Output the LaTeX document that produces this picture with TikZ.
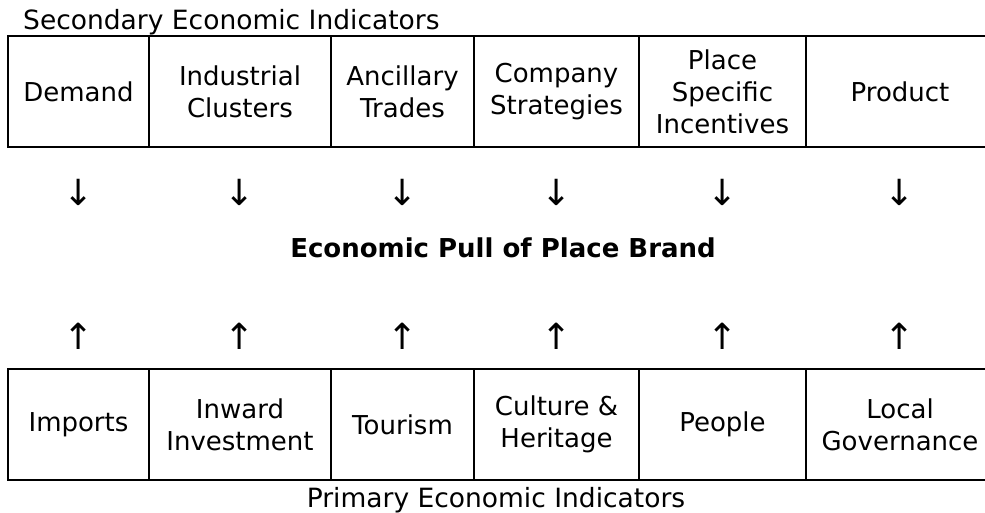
\documentclass[tikz,border=0pt]{standalone}
\usepackage{fontspec}
\setmainfont{DejaVu Sans}
\usetikzlibrary{positioning}
\tikzset{
	cell/.style={rectangle, draw, line width=1.8pt, outer sep=0pt, inner sep=0pt, minimum width=#1, minimum height=111pt, align=center, font=\fontsize{26}{32}\selectfont},
	caption/.style={inner sep=0pt, font=\fontsize{26.5}{32}\selectfont},
	arrowsym/.style={inner sep=0pt, font=\fontsize{36}{40}\selectfont},
	pulltitle/.style={inner sep=0pt, font=\fontsize{26}{32}\selectfont\bfseries}
}

\begin{document}
\begin{tikzpicture}[x=1pt, y=-1pt]
	\useasboundingbox (0,0) rectangle (985,513);

	% Secondary indicators (top row)
	\node[cell=141pt, anchor=north west] (demand) at (8,36) {Demand};
	\node[cell=182pt, right=0pt of demand] (clusters) {Industrial\\Clusters};
	\node[cell=143pt, right=0pt of clusters] (trades) {Ancillary\\Trades};
	\node[cell=165pt, right=0pt of trades] (strategies) {Company\\Strategies};
	\node[cell=167pt, right=0pt of strategies] (incentives) {Place\\Specific\\Incentives};
	\node[cell=188pt, right=0pt of incentives] (product) {Product};

	% Primary indicators (bottom row)
	\node[cell=141pt, below=222pt of demand] (imports) {Imports};
	\node[cell=182pt, right=0pt of imports] (investment) {Inward\\Investment};
	\node[cell=143pt, right=0pt of investment] (tourism) {Tourism};
	\node[cell=165pt, right=0pt of tourism] (culture) {Culture \&\\Heritage};
	\node[cell=167pt, right=0pt of culture] (people) {People};
	\node[cell=188pt, right=0pt of people] (governance) {Local\\Governance};

	% Captions
	\node[caption, anchor=base west] (secondary) at (23,30) {Secondary Economic Indicators};
	\node[caption, anchor=base] (primary) at (496,507) {Primary Economic Indicators};
	\node[pulltitle] (pull) at (503,248) {Economic Pull of Place Brand};

	% Down arrows
	\foreach \c in {demand, clusters, trades, strategies, incentives, product}
		\node[arrowsym, below=45pt of \c, anchor=center] (down-\c) {↓};

	% Up arrows
	\foreach \c in {imports, investment, tourism, culture, people, governance}
		\node[arrowsym, above=33pt of \c, anchor=center] (up-\c) {↑};
\end{tikzpicture}
\end{document}
